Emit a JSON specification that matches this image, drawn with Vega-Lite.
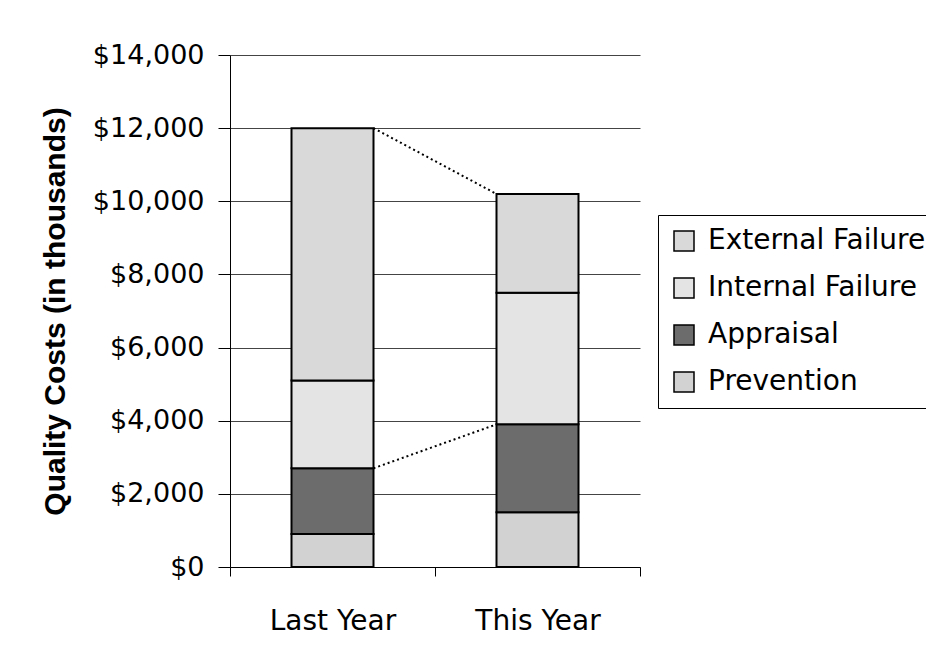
{
  "$schema": "https://vega.github.io/schema/vega-lite/v6.json",
  "width": 410,
  "height": 512,
  "autosize": {"type": "none"},
  "padding": {"left": 230, "top": 55, "right": 286, "bottom": 95},
  "background": "white",
  "config": {
    "font": "DejaVu Sans",
    "view": {"stroke": null},
    "axis": {"labelFont": "DejaVu Sans", "titleFont": "Liberation Sans", "labelColor": "black", "titleColor": "black"}
  },
  "datasets": {
    "costs": [
      {"period": "Last Year", "category": "Prevention", "ord": 1, "cost": 900},
      {"period": "Last Year", "category": "Appraisal", "ord": 2, "cost": 1800},
      {"period": "Last Year", "category": "Internal Failure", "ord": 3, "cost": 2400},
      {"period": "Last Year", "category": "External Failure", "ord": 4, "cost": 6900},
      {"period": "This Year", "category": "Prevention", "ord": 1, "cost": 1500},
      {"period": "This Year", "category": "Appraisal", "ord": 2, "cost": 2400},
      {"period": "This Year", "category": "Internal Failure", "ord": 3, "cost": 3600},
      {"period": "This Year", "category": "External Failure", "ord": 4, "cost": 2700}
    ],
    "links": [
      {"from": "Last Year", "to": "This Year", "v1": 12000, "v2": 10200},
      {"from": "Last Year", "to": "This Year", "v1": 2700, "v2": 3900}
    ]
  },
  "layer": [
    {
      "data": {"name": "costs"},
      "mark": {"type": "bar", "stroke": "black", "strokeWidth": 2, "width": {"band": 0.4}},
      "encoding": {
        "x": {
          "field": "period", "type": "nominal", "title": null,
          "scale": {"paddingInner": 0, "paddingOuter": 0},
          "axis": {"labelAngle": 0, "labelFontSize": 28, "tickBand": "extent", "tickSize": 9, "tickColor": "black", "domainColor": "black", "labelPadding": 31, "grid": false}
        },
        "y": {
          "field": "cost", "type": "quantitative", "aggregate": "sum", "stack": "zero",
          "title": "Quality Costs (in thousands)",
          "scale": {"domain": [0, 14000], "nice": false},
          "axis": {"values": [0, 2000, 4000, 6000, 8000, 10000, 12000, 14000], "format": "$,.0f", "labelFontSize": 27, "titleFontSize": 30, "titleFontWeight": "bold", "tickSize": 12, "tickColor": "black", "domainColor": "black", "labelPadding": 14, "titlePadding": 22, "grid": true, "gridColor": "#444444", "gridWidth": 1}
        },
        "order": {"field": "ord", "type": "quantitative"},
        "fill": {
          "field": "category", "type": "nominal",
          "scale": {"domain": ["External Failure", "Internal Failure", "Appraisal", "Prevention"], "range": ["#d9d9d9", "#e4e4e4", "#6c6c6c", "#d2d2d2"]},
          "legend": {
            "title": null, "orient": "none", "legendX": 428, "legendY": 160,
            "labelFontSize": 28, "labelFont": "DejaVu Sans", "labelColor": "black",
            "symbolType": "square", "symbolSize": 400, "symbolStrokeColor": "black", "symbolStrokeWidth": 1.5,
            "rowPadding": 19, "labelOffset": 10, "padding": 12,
            "strokeColor": "black", "fillColor": "white", "labelLimit": 400
          }
        }
      }
    },
    {
      "data": {"name": "links"},
      "mark": {"type": "rule", "stroke": "black", "strokeWidth": 2, "strokeDash": [2, 3]},
      "encoding": {
        "x": {"field": "from", "type": "nominal", "bandPosition": 0.7},
        "x2": {"field": "to", "bandPosition": 0.3},
        "y": {"field": "v1", "type": "quantitative"},
        "y2": {"field": "v2"}
      }
    }
  ]
}
